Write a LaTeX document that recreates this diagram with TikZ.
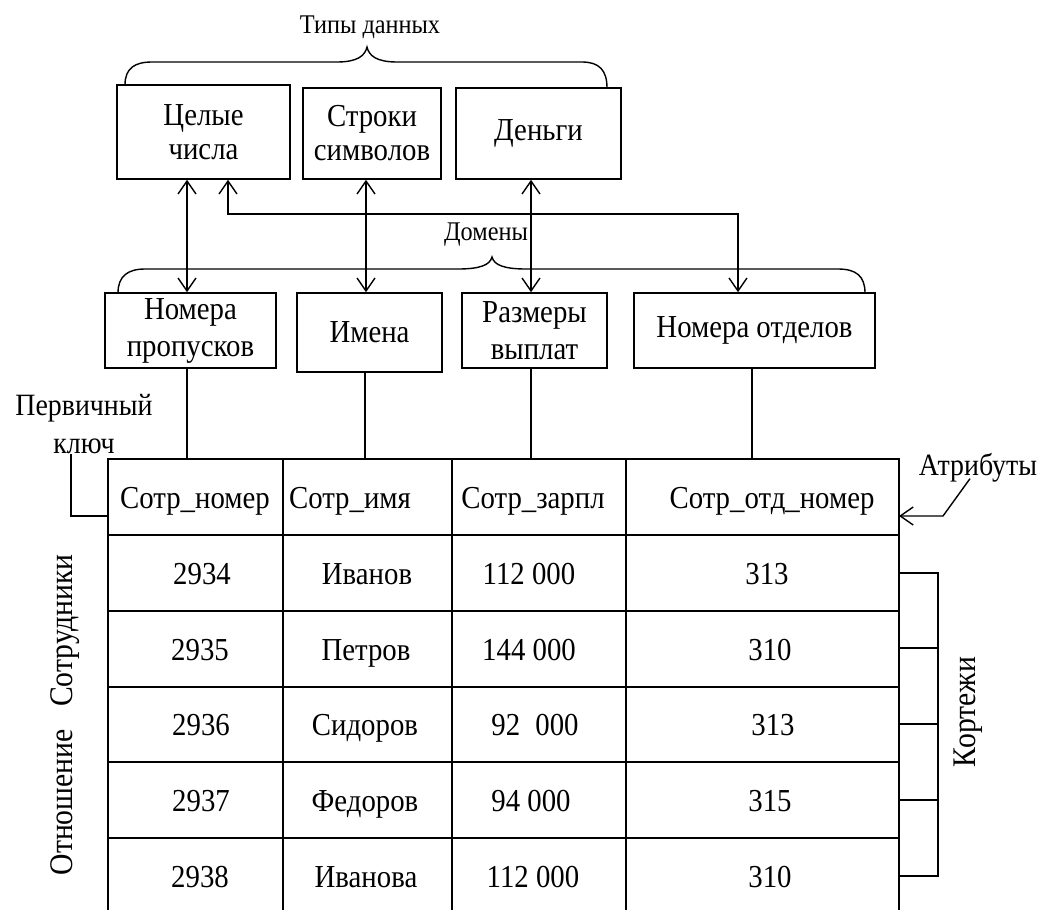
\documentclass[tikz,border=0pt]{standalone}
\usepackage{fontspec}
\setmainfont{Liberation Serif}[FakeStretch=0.9]
\usetikzlibrary{arrows.meta}
\begin{document}
\begin{tikzpicture}[x=1pt,y=-1pt]
\tikzset{
  box/.style={draw, line width=1.6pt, inner sep=0pt, align=center, font=\fontsize{32}{34}\selectfont},
  tbl/.style={line width=1.6pt},
  ln/.style={line width=1.4pt},
  both/.style={ln, {Straight Barb[length=13pt,width=18pt]}-{Straight Barb[length=13pt,width=18pt]}},
  one/.style={ln, -{Straight Barb[length=13pt,width=18pt]}},
  cell/.style={inner sep=0pt, anchor=base, font=\fontsize{32}{34}\selectfont},
  lbl/.style={inner sep=0pt, font=\fontsize{27}{30}\selectfont},
  side/.style={inner sep=0pt, align=center, font=\fontsize{31}{38}\selectfont},
}
\useasboundingbox (0,0) rectangle (1044,910);

% data type boxes
\node[box, minimum width=173pt, minimum height=94pt] (int) at (203.5,132) {Целые\\числа};
\node[box, minimum width=138pt, minimum height=91pt] (str) at (372,133.5) {Строки\\символов};
\node[box, minimum width=165pt, minimum height=91pt] (money) at (538.5,133.5) {Деньги};

% domain boxes
\node[box, minimum width=171pt, minimum height=75pt, font=\fontsize{32}{37}\selectfont] (pass) at (190.5,330.5) {Номера\\пропусков};
\node[box, minimum width=145pt, minimum height=79pt] (names) at (369.5,332.5) {Имена};
\node[box, minimum width=145pt, minimum height=75pt, font=\fontsize{32}{37}\selectfont] (pay) at (534.5,330.5) {Размеры\\выплат};
\node[box, minimum width=241pt, minimum height=75pt] (dept) at (754.5,330.5) {Номера отделов};

% labels
\node[lbl] (types) at (370,27) {Типы данных};
\node[lbl] (doms) at (486,235) {Домены};
\node[side] (pk) at (84,424) {Первичный\\ключ};
\node[side] (attr) at (978,468) {Атрибуты};
\node[side, rotate=90, font=\fontsize{33}{38}\selectfont] (tuples) at (968,712) {Кортежи};
\node[side, rotate=90, font=\fontsize{33}{38}\selectfont] (rel) at (65,715) {Отношение\hspace{0.45em} Сотрудники};

% braces
\draw[ln] (125,85) .. controls (125,68) and (135,62) .. (152,62) -- (337,62)
  .. controls (357,62) and (365,56) .. (367,47)
  .. controls (369,56) and (377,62) .. (397,62) -- (582,62)
  .. controls (599,62) and (607,70) .. (607,88);
\draw[ln] (118,293) .. controls (118,276) and (128,269) .. (145,269) -- (458,269)
  .. controls (480,269) and (490,265) .. (492,257)
  .. controls (494,265) and (504,269) .. (526,269) -- (838,269)
  .. controls (856,269) and (865,276) .. (865,293);

% type <-> domain arrows
\draw[both] ([xshift=-16.5pt]int.south) -- ([xshift=-3.5pt]pass.north);
\draw[both] ([xshift=24.5pt]int.south) -- ++(0,34) -| ([xshift=-16.5pt]dept.north);
\draw[both] ([xshift=-6pt]str.south) -- ([xshift=-3.5pt]names.north);
\draw[both] ([xshift=-7.5pt]money.south) -- ([xshift=-3.5pt]pay.north);

% table
\coordinate (tl) at (108,459);
\coordinate (tr) at (899,459);
\draw[tbl] (108,910) -- (tl) -- (tr) -- (899,910);
\foreach \y in {535,611,687,762,838} \draw[tbl] (108,\y) -- (899,\y);
\foreach \x in {283,452,626} \draw[tbl] (\x,459) -- (\x,910);

% domain -> attribute lines
\coordinate (c1) at (187,459);
\coordinate (c2) at (365,459);
\coordinate (c3) at (531,459);
\coordinate (c4) at (752,459);
\draw[ln] ([xshift=-3.5pt]pass.south) -- (c1);
\draw[ln] ([xshift=-4.5pt]names.south) -- (c2);
\draw[ln] ([xshift=-3.5pt]pay.south) -- (c3);
\draw[ln] ([xshift=-2.5pt]dept.south) -- (c4);

% primary key
\coordinate (pkend) at (108,516);
\draw[ln] ([xshift=-13pt]pk.south) |- (pkend);

% attributes
\coordinate (abend) at (943,516);
\coordinate (aend) at (899,516);
\draw[one] ([xshift=-8pt,yshift=4pt]attr.south) -- (abend) -- (aend);

% tuples bracket
\draw[ln] (899,573) -- (938,573) -- (938,876) -- (899,876);
\foreach \y in {648,724,800} \draw[ln] (899,\y) -- (938,\y);

% header
\node[cell] (h1) at (195,508) {Сотр\_номер};
\node[cell] (h2) at (350,508) {Сотр\_имя};
\node[cell] (h3) at (533,508) {Сотр\_зарпл};
\node[cell] (h4) at (772,508) {Сотр\_отд\_номер};

% rows
\node[cell] (r1a) at (202,584) {2934};
\node[cell] (r1b) at (367,584) {Иванов};
\node[cell] (r1c) at (529,584) {112 000};
\node[cell] (r1d) at (767,584) {313};

\node[cell] (r2a) at (200,660) {2935};
\node[cell] (r2b) at (366,660) {Петров};
\node[cell] (r2c) at (529,660) {144 000};
\node[cell] (r2d) at (770,660) {310};

\node[cell] (r3a) at (201,735) {2936};
\node[cell] (r3b) at (365,735) {Сидоров};
\node[cell] (r3c) at (535,735) {92\hspace{0.25em} 000};
\node[cell] (r3d) at (773,735) {313};

\node[cell] (r4a) at (201,811) {2937};
\node[cell] (r4b) at (365,811) {Федоров};
\node[cell] (r4c) at (531,811) {94 000};
\node[cell] (r4d) at (770,811) {315};

\node[cell] (r5a) at (200,887) {2938};
\node[cell] (r5b) at (366,887) {Иванова};
\node[cell] (r5c) at (533,887) {112 000};
\node[cell] (r5d) at (770,887) {310};
\end{tikzpicture}
\end{document}
